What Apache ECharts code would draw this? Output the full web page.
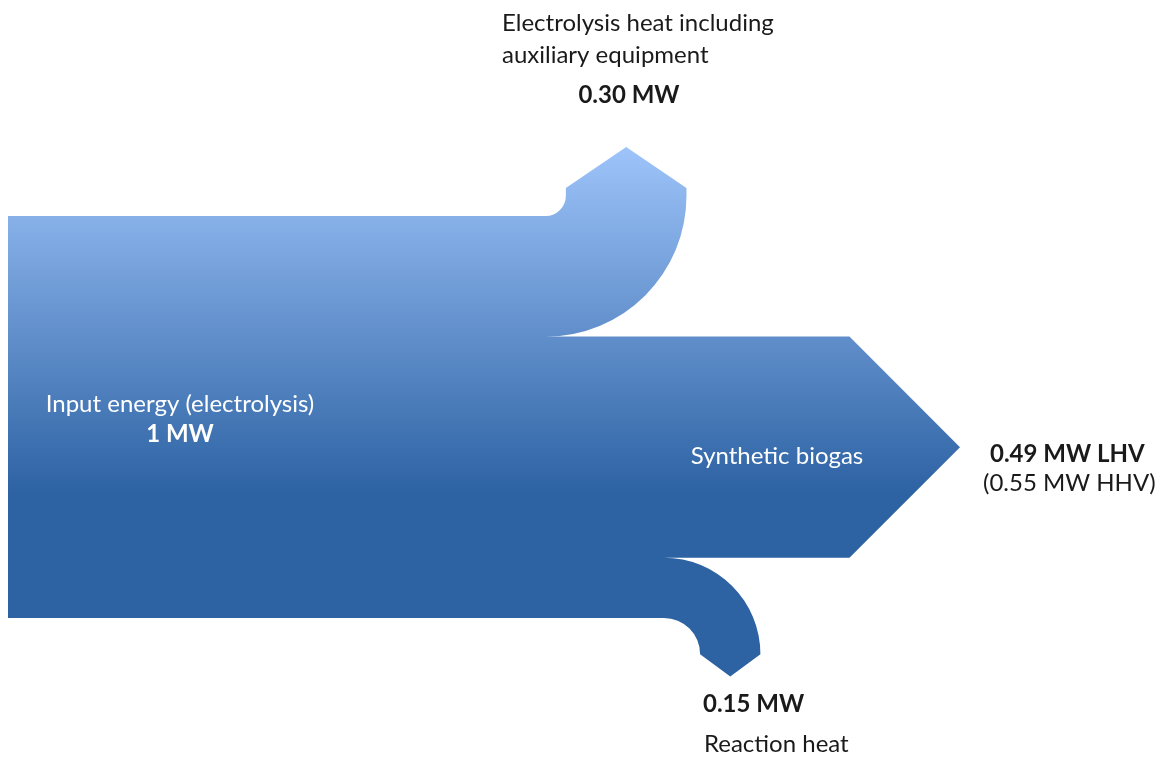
<!DOCTYPE html>
<html>
<head>
<meta charset="utf-8">
<title>Power-to-gas energy flow</title>
<script src="https://cdn.jsdelivr.net/npm/echarts@6/dist/echarts.min.js"></script>
<style>
  html, body { margin: 0; padding: 0; background: #ffffff; }
  #chart { width: 1169px; height: 757px; }
</style>
</head>
<body>
<div id="chart"></div>
<script>
// Energy flows (MW). The input band splits into three outgoing streams.
const inputName = 'Input energy (electrolysis)';
const inputMW = [1];
const flowNames = ['Electrolysis heat including', 'Synthetic biogas', 'Reaction heat'];
const flowSubtitle = ['auxiliary equipment'];
const flowMW = [0.30, 0.55, 0.15];          // band widths: heat, biogas (HHV), reaction heat
const biogasLHV = [0.49];
const biogasHHV = [0.55];

const FONT = 'Lato, "Open Sans", sans-serif';
const fmt = v => (Number.isInteger(v) ? String(v) : v.toFixed(2)) + ' MW';

// Layout of the arrow shape (fractions of the x axis / MW on the y axis)
const TURN_UP_AT = 0.586;     // where the heat stream bends upward
const TURN_DOWN_AT = 0.727;   // where the reaction heat bends downward
const INNER_R_UP = 0.05;      // inner bend radius, in MW of band height
const INNER_R_DOWN = 0.09;

function renderFlow(params, api) {
  const p0 = api.coord([0, 0]);
  const p1 = api.coord([0, inputMW[0]]);
  const x0 = p0[0], yTop = p0[1], yBot = p1[1];
  const px = v => api.size([0, v])[1];

  const wT = px(flowMW[0]);
  const wG = px(flowMW[1]);
  const wB = px(flowMW[2]);
  const y1 = yTop + wT;
  const y2 = y1 + wG;

  // upward bend (heat)
  const L = api.coord([TURN_UP_AT, 0])[0];
  const ri = px(INNER_R_UP);
  const ro = ri + wT;
  const cx = L - ri;
  const stemT = 8;
  const headT = 0.34 * wT;
  const shoulderT = yTop - ri - stemT;
  const apexTopY = shoulderT - headT;

  // main arrow head (biogas)
  const apexX = api.coord([1, 0])[0];
  const half = wG / 2;
  const shoulderX = apexX - half;

  // downward bend (reaction heat)
  const Lb = api.coord([TURN_DOWN_AT, 0])[0];
  const rib = px(INNER_R_DOWN);
  const rob = rib + wB;
  const cbx = Lb - rib;
  const cby = yBot + rib;
  const headB = 0.37 * wB;

  const d = [
    'M', x0, yTop,
    'L', cx, yTop,
    'A', ri, ri, 0, 0, 0, L, yTop - ri,
    'L', L, shoulderT,
    'L', L + wT / 2, apexTopY,
    'L', L + wT, shoulderT,
    'L', L + wT, yTop - ri,
    'A', ro, ro, 0, 0, 1, cx, y1,
    'L', shoulderX, y1,
    'L', apexX, y1 + half,
    'L', shoulderX, y2,
    'L', cbx, y2,
    'A', rob, rob, 0, 0, 1, Lb + wB, cby,
    'L', Lb + wB / 2, cby + headB,
    'L', Lb, cby,
    'A', rib, rib, 0, 0, 0, cbx, yBot,
    'L', x0, yBot,
    'Z'
  ].join(' ');

  const gradEnd = api.coord([0, 0.69])[1];
  return {
    type: 'path',
    shape: { pathData: d },
    style: {
      fill: {
        type: 'linear', global: true,
        x: 0, y: apexTopY, x2: 0, y2: gradEnd,
        colorStops: [
          { offset: 0, color: '#9ec4fa' },
          { offset: 1, color: '#2d62a3' }
        ]
      },
      stroke: null
    }
  };
}

const darkText = { fontFamily: FONT, fontSize: 24, fill: '#1a1a1a' };
const whiteText = { fontFamily: FONT, fontSize: 24, fill: '#ffffff' };

function txt(x, y, text, base, extra) {
  return {
    type: 'text', x: x, y: y, z: 100, silent: true,
    style: Object.assign({ text: text, textVerticalAlign: 'middle' }, base, extra || {})
  };
}

const option = {
  animation: false,
  backgroundColor: '#ffffff',
  grid: { left: 8, top: 216, width: 952, height: 402 },
  xAxis: { type: 'value', min: 0, max: 1, show: false },
  yAxis: { type: 'value', min: 0, max: inputMW[0], inverse: true, show: false },
  series: [{
    type: 'custom',
    clip: false,
    z: 1,
    coordinateSystem: 'cartesian2d',
    data: [[0, inputMW[0]]],
    renderItem: renderFlow,
    silent: true
  }],
  graphic: {
    elements: [
      txt(502, 23, flowNames[0], darkText),
      txt(502, 55, flowSubtitle[0], darkText),
      txt(629, 95, fmt(flowMW[0]), darkText, { fontWeight: 'bold', textAlign: 'center' }),
      txt(180, 404, inputName, whiteText, { textAlign: 'center' }),
      txt(180, 434, fmt(inputMW[0]), whiteText, { fontWeight: 'bold', textAlign: 'center' }),
      txt(777, 456, flowNames[1], whiteText, { textAlign: 'center' }),
      txt(990, 454, fmt(biogasLHV[0]) + ' LHV', darkText, { fontWeight: 'bold' }),
      txt(983, 483, '(' + fmt(biogasHHV[0]) + ' HHV)', darkText),
      txt(703, 704, fmt(flowMW[2]), darkText, { fontWeight: 'bold' }),
      txt(704, 744, flowNames[2], darkText)
    ]
  }
};

const chart = echarts.init(document.getElementById('chart'), null, { renderer: 'canvas' });
chart.setOption(option);
</script>
</body>
</html>
